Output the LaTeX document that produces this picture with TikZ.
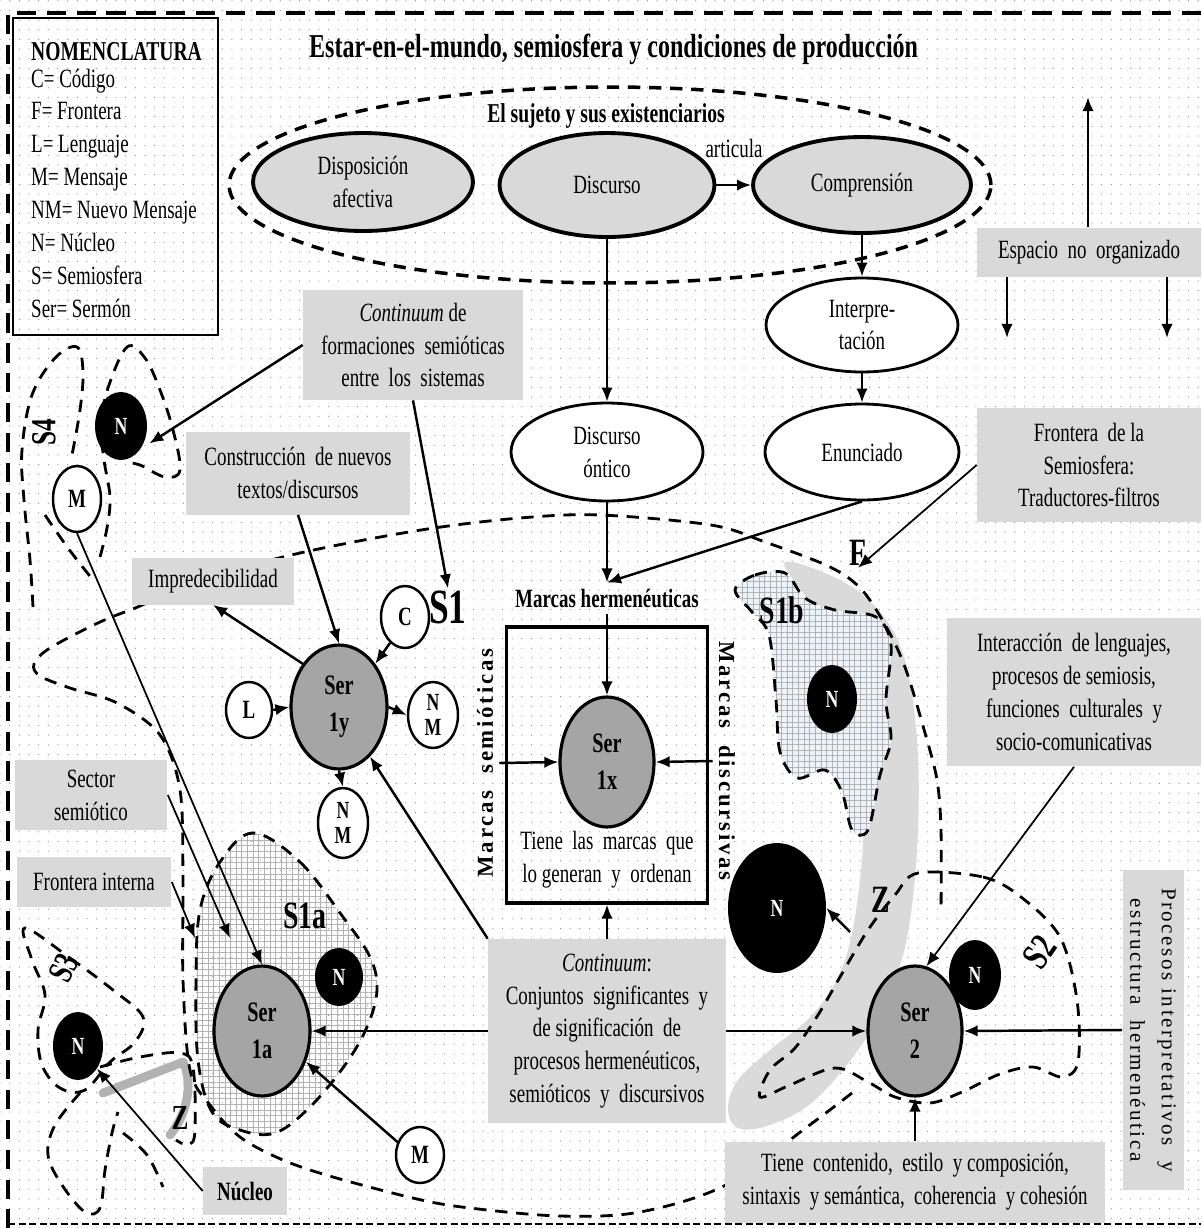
\documentclass[tikz,border=0pt]{standalone}
\usepackage{fontspec}
\setmainfont{Liberation Serif}[FakeStretch=0.72]
\newfontfamily\spacedfont{Liberation Serif}[LetterSpace=12]
\usetikzlibrary{shapes.geometric,arrows.meta,patterns.meta}

\definecolor{boxgray}{HTML}{D9D9D9}
\definecolor{sergray}{HTML}{A5A5A5}
\definecolor{bandgray}{HTML}{DADADA}
\definecolor{gridblue}{HTML}{EDF3FA}

\tikzset{
  txt/.style={font=\fontsize{15}{18.7}\selectfont},
  gbox/.style={txt, fill=boxgray, align=center, inner sep=0pt},
  exist/.style={txt, ellipse, draw, line width=2.2pt, fill=boxgray, inner sep=0pt, align=center},
  wht/.style={txt, ellipse, draw, line width=1.6pt, fill=white, inner sep=0pt, align=center},
  ser/.style={ellipse, draw, line width=1.8pt, fill=sergray, inner sep=0pt, align=center, font=\bfseries\fontsize{16}{21}\selectfont},
  nuc/.style={ellipse, fill=black, text=white, inner sep=0pt, font=\bfseries\fontsize{14}{16}\selectfont},
  msg/.style={ellipse, draw, line width=1.4pt, fill=white, inner sep=0pt, align=center, font=\bfseries\fontsize{15}{15}\selectfont},
  arr/.style={-{Latex[length=8pt,width=6.5pt]}, line width=1.4pt},
  tarr/.style={arr, line width=1pt},
  bdash/.style={line width=1.6pt, dash pattern=on 7pt off 5pt},
  slbl/.style={font=\bfseries\fontsize{22}{22}\selectfont, inner sep=1pt},
  hatched/.style={pattern={Hatch[distance=3.2pt,line width=0.3pt]}, pattern color=black!30},
}

\begin{document}
\begin{tikzpicture}[x=0.02cm,y=-0.02cm]
\useasboundingbox (0,0) rectangle (1201,1228);
\fill[white] (0,0) rectangle (1201,1228);
\fill[pattern={Dots[distance=5.5pt,radius=0.35pt]}, pattern color=black!45] (0,0) rectangle (1201,1228);

% zona Z
\fill[bandgray] plot[smooth cycle, tension=0.6] coordinates {(785,562) (840,580) (880,612) (905,660) (917,740) (918,830) (910,920) (895,980) (865,1040) (815,1100) (770,1125) (738,1128) (728,1108) (738,1080) (770,1050) (815,1012) (845,960) (860,880) (864,790) (856,705) (835,645) (808,600)};
\draw[line width=5pt, draw=black!30, line cap=round, line join=round] (103,1093) -- (183,1062) .. controls (192,1080) and (190,1110) .. (170,1135);

% semiosferas
\draw[bdash, hatched] plot[smooth cycle, tension=0.6] coordinates {(253,833) (300,862) (343,917) (370,957) (377,990) (367,1027) (345,1065) (310,1107) (275,1133) (240,1130) (212,1112) (198,1060) (196,980) (200,910) (220,862)};
\draw[bdash, preaction={fill=gridblue}, hatched] plot[smooth cycle, tension=0.55] coordinates {(735,590) (755,575) (785,573) (805,598) (835,610) (876,617) (891,645) (886,700) (891,740) (880,775) (868,830) (852,830) (842,792) (825,770) (797,778) (780,752) (776,700) (769,635) (752,612)};
\draw[bdash] plot[smooth, tension=0.55] coordinates {(852,1093) (807,1127) (726,1185) (640,1212) (560,1216) (470,1208) (417,1199) (333,1177) (283,1160) (240,1137) (210,1105) (190,1070) (183,980) (183,880) (180,790) (160,735) (117,703) (70,688) (40,676) (34,664) (50,648) (100,622) (140,606) (200,580) (300,553) (421,530) (520,518) (600,515) (711,525) (765,542) (830,567) (862,590) (888,630) (906,670) (925,733) (937,780) (941,830) (941,913)};
\draw[bdash] plot[smooth cycle, tension=0.55] coordinates {(918,873) (983,877) (1021,897) (1060,937) (1077,1000) (1078,1062) (1062,1077) (1033,1067) (1000,1074) (962,1092) (930,1103) (895,1097) (868,1082) (835,1068) (790,1085) (760,1097) (770,1070) (795,1048) (818,1015) (840,977) (868,930) (895,895)};
\draw[bdash] plot[smooth, tension=0.6] coordinates {(100,1067) (140,1057) (180,1053) (193,1068) (195,1130) (189,1145) (176,1140)};
\draw[bdash] plot[smooth cycle, tension=0.6] coordinates {(25,928) (70,958) (113,990) (143,1017) (135,1042) (110,1062) (85,1090) (60,1088) (42,1065) (38,1030) (45,995) (32,960)};
\draw[bdash] plot[smooth, tension=0.6] coordinates {(80,1093) (55,1125) (48,1155) (62,1185) (85,1212) (100,1208) (105,1170) (112,1133) (118,1112)};
\draw[bdash] plot[smooth, tension=0.6] coordinates {(123,1133) (147,1155) (163,1187)};
\draw[bdash] plot[smooth, tension=0.6] coordinates {(33,607) (30,560) (24,500) (22,450) (32,395) (55,358) (77,347) (83,372) (80,410) (72,455)};
\draw[bdash] plot[smooth, tension=0.6] coordinates {(100,557) (107,528) (110,497) (104,460) (101,425) (108,388) (127,347) (145,358) (160,390) (173,430) (180,470) (165,477) (140,465) (125,462)};
\draw[bdash] plot[smooth, tension=0.6] coordinates {(45,515) (68,548) (93,580)};

% marco
\draw[line width=2.4pt, dash pattern=on 11pt off 6pt] (1201,13) -- (8,13) -- (8,1228);
\draw[line width=0.6pt, dash pattern=on 4pt off 2pt] (8,1224) -- (1201,1224);

% nomenclatura
\node[draw, line width=0.9pt, minimum width=4.1cm, minimum height=6.34cm] (legend) at (115.5,176.5) {};
\node[font=\bfseries\fontsize{15.5}{18}\selectfont, anchor=base west] (nomen) at (25,60) {NOMENCLATURA};
\foreach \t [count=\i from 0] in {C= Código, F= Frontera, L= Lenguaje, M= Mensaje, NM= Nuevo Mensaje, N= Núcleo, S= Semiosfera, Ser= Sermón}
  \node[txt, anchor=base west] (leg\i) at (25,{87+32.9*\i}) {\t};

\node[font=\bfseries\fontsize{19}{22}\selectfont, anchor=base west] (titulo) at (303,57) {Estar-en-el-mundo, semiosfera y condiciones de producción};

% existenciarios
\node[ellipse, draw, bdash, line width=2pt, minimum width=15.24cm, minimum height=3.92cm] (sujeto) at (610,185) {};
\node[font=\bfseries\fontsize{15.5}{18}\selectfont, anchor=base] (sujlbl) at (606,122) {El sujeto y sus existenciarios};
\node[exist, minimum width=4.4cm, minimum height=1.96cm] (disp) at (363,182) {Disposición\\afectiva};
\node[exist, minimum width=4.3cm, minimum height=2.08cm] (disc) at (607,185) {Discurso};
\node[exist, minimum width=4.36cm, minimum height=1.92cm] (compr) at (862,185) {Comprensión};
\node[txt, anchor=base] (artic) at (734,157) {articula};
\node[wht, minimum width=3.84cm, minimum height=1.88cm] (interp) at (862,325) {Interpre-\\tación};
\node[wht, minimum width=3.84cm, minimum height=1.96cm] (ontico) at (607,452) {Discurso\\óntico};
\node[wht, minimum width=3.88cm, minimum height=1.92cm] (enun) at (862,452) {Enunciado};

% marcas
\node[draw, line width=1.8pt, minimum width=4.02cm, minimum height=5.52cm] (mbox) at (607,765) {};
\node[font=\bfseries\fontsize{15}{18}\selectfont] (mherm) at (607,598) {Marcas hermenéuticas};
\node[rotate=90, font=\spacedfont\bfseries\fontsize{13}{15}\selectfont] (msem) at (485,763) {Marcas\ \ semióticas};
\node[rotate=-90, font=\spacedfont\bfseries\fontsize{13}{15}\selectfont] (mdisc) at (727,761) {Marcas\ \ discursivas};
\node[txt, align=center] (tlas) at (607,860) {Tiene\ \ las\ \ marcas\ \ que\\lo generan\ \ y\ \ ordenan};

% sermones
\node[ser, minimum width=1.92cm, minimum height=2.48cm] (ser1y) at (339,707) {Ser\\1y};
\node[ser, minimum width=1.88cm, minimum height=2.6cm] (ser1x) at (607,762) {Ser\\1x};
\node[ser, minimum width=1.92cm, minimum height=2.6cm] (ser1a) at (262,1031) {Ser\\1a};
\node[ser, minimum width=1.88cm, minimum height=2.6cm] (ser2) at (915,1031) {Ser\\2};

\node[msg, minimum width=0.96cm, minimum height=1.24cm] (cod) at (405,617) {C};
\node[msg, minimum width=0.92cm, minimum height=1.12cm] (len) at (249,710) {L};
\node[msg, minimum width=1cm, minimum height=1.32cm, font=\bfseries\fontsize{14}{14}\selectfont] (nmr) at (433,715) {N\\M};
\node[msg, minimum width=1cm, minimum height=1.4cm, font=\bfseries\fontsize{14}{14}\selectfont] (nmb) at (343,823) {N\\M};
\node[msg, minimum width=0.96cm, minimum height=1.32cm] (msa) at (77,499) {M};
\node[msg, minimum width=0.96cm, minimum height=1.12cm] (msb) at (420,1155) {M};

\node[nuc, minimum width=1.04cm, minimum height=1.36cm] (nS4) at (121,426) {N};
\node[nuc, minimum width=0.96cm, minimum height=1.16cm] (nS1a) at (339,977) {N};
\node[nuc, minimum width=1cm, minimum height=1.36cm] (nS3) at (78,1046) {N};
\node[nuc, minimum width=1cm, minimum height=1.36cm] (nS1b) at (832,699) {N};
\node[nuc, minimum width=1.96cm, minimum height=2.6cm] (nbig) at (777,908) {N};
\node[nuc, minimum width=1.04cm, minimum height=1.4cm] (nS2) at (975,975) {N};

% etiquetas
\node[slbl, font=\bfseries\fontsize{28}{28}\selectfont] (s1lbl) at (448,607) {S1};
\node[slbl] (s1alb) at (305,916) {S1a};
\node[slbl] (s1blb) at (782,610) {S1b};
\node[slbl] (flbl) at (858,553) {F};
\node[slbl] (zlbl) at (881,900) {Z};
\node[slbl, font=\bfseries\fontsize{20}{20}\selectfont] (zsm) at (180,1118) {Z};
\node[slbl, rotate=55] (s2lbl) at (1040,952) {S2};
\node[slbl, rotate=65, font=\bfseries\fontsize{20}{20}\selectfont] (s3lbl) at (64,968) {S3};
\node[slbl, rotate=90, font=\bfseries\fontsize{20}{20}\selectfont] (s4lbl) at (44,432) {S4};

% cajas
\node[gbox, minimum width=4.4cm, minimum height=2.2cm] (contform) at (413,345) {\textit{Continuum} de\\formaciones\ \ semióticas\\entre\ \ los\ \ sistemas};
\node[gbox, minimum width=4.48cm, minimum height=1.66cm] (constr) at (298,473) {Construcción\ \ de nuevos\\textos/discursos};
\node[gbox, minimum width=3.26cm, minimum height=0.94cm] (impred) at (213,581) {Impredecibilidad};
\node[gbox, minimum width=3.06cm, minimum height=1.4cm] (sector) at (91,795) {Sector\\semiótico};
\node[gbox, minimum width=3.1cm, minimum height=1cm] (fronint) at (94,882) {Frontera interna};
\node[gbox, minimum width=1.68cm, minimum height=0.96cm] (nucleo) at (245,1191) {\textbf{Núcleo}};
\node[gbox, minimum width=4.48cm, minimum height=0.98cm] (espacio) at (1089,252) {Espacio\ \ no\ \ organizado};
\node[gbox, minimum width=4.48cm, minimum height=2.3cm] (fronsem) at (1089,465) {Frontera\ \ de la\\Semiosfera:\\Traductores-filtros};
\node[gbox, minimum width=5.08cm, minimum height=2.98cm] (interac) at (1074,692) {Interacción\ \ de lenguajes,\\procesos de semiosis,\\funciones\ \ culturales\ \ y\\socio-comunicativas};
\node[gbox, minimum width=4.76cm, minimum height=3.68cm] (contsig) at (607,1031) {\textit{Continuum}:\\Conjuntos\ \ significantes\ \ y\\de significación\ \ de\\procesos hermenéuticos,\\semióticos\ \ y\ \ discursivos};
\node[gbox, minimum width=7.62cm, minimum height=1.62cm] (tiene) at (915,1182) {Tiene\ \ contenido,\ \ estilo\ \ y composición,\\sintaxis\ \ y semántica,\ \ coherencia\ \ y cohesión};
\node[fill=boxgray, minimum width=1.22cm, minimum height=6.4cm] (procesos) at (1153,1030) {};
\node[rotate=-90, align=center, font=\spacedfont\fontsize{12}{18}\selectfont] (procLbl) at (procesos) {Procesos interpretativos\ \ y\\estructura\ \ hermenéutica};

% flechas
\coordinate (eup) at (1088,97);
\coordinate (edl) at (1007,338);
\coordinate (edr) at (1167,338);
\coordinate (s1aw1) at (230,938);
\coordinate (s1aw2) at (195,938);
\coordinate (zbandp) at (850,932);

\draw[arr] (espacio.north -| eup) -- (eup);
\draw[arr] (espacio.south -| edl) -- (edl);
\draw[arr] (espacio.south -| edr) -- (edr);
\draw[arr] (disc.east) -- (compr.west);
\draw[arr] (compr.south) -- (interp.north);
\draw[arr] (interp.south) -- (enun.north);
\draw[arr] (disc.south) -- (ontico.north);
\draw[arr] (ontico.south) -- (mherm.north);
\draw[arr] (enun.south) -- (mherm.north);
\draw[arr] (mherm.south) -- (ser1x.north);
\draw[arr] (msem.south) -- (ser1x.west);
\draw[arr] (mdisc.south) -- (ser1x.east);
\draw[arr] (contsig.north) -- (mbox.south);
\draw[arr] (contsig.west) -- (ser1a.east);
\draw[arr] (contsig.east) -- (ser2.west);
\draw[arr] (contsig.north west) -- (ser1y.-58);
\draw[arr, shorten >=6pt] (contform.west) -- (nS4.-50);
\draw[arr] (contform.south) -- (s1lbl.north);
\draw[arr] (constr.south) -- (ser1y.north);
\draw[arr] (ser1y.130) -- (impred.south);
\draw[arr] (cod.-120) -- (ser1y.50);
\draw[arr] (len.east) -- (ser1y.west);
\draw[arr] (ser1y.east) -- (nmr.west);
\draw[arr] (ser1y.south) -- (nmb.north);
\draw[tarr] (msa.south) -- (ser1a.north);
\draw[tarr] (sector.east) -- (s1aw1);
\draw[tarr] (fronint.east) -- (s1aw2);
\draw[arr] (msb.150) -- (ser1a.-35);
\draw[tarr] (nucleo.west) -- (nS3.-50);
\draw[tarr] (fronsem.west) -- (flbl.south);
\draw[tarr] (interac.south) -- (ser2.80);
\draw[arr] (procesos.west) -- (ser2.east);
\draw[arr] (tiene.north) -- (ser2.south);
\draw[arr] (zbandp) -- (nbig.east);
\end{tikzpicture}
\end{document}
